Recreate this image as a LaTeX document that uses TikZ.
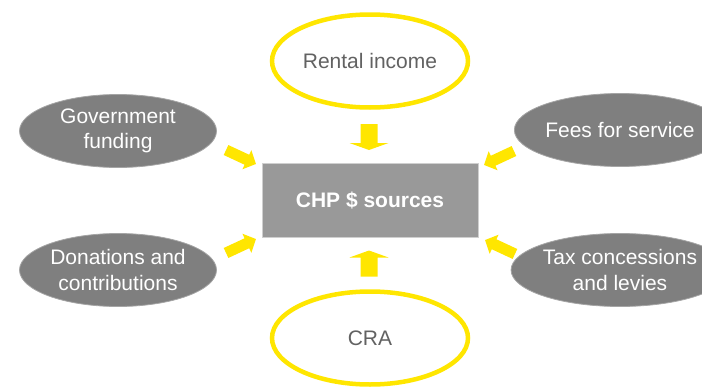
\documentclass[tikz,border=0pt]{standalone}
\usepackage{fontspec}
\setmainfont{Liberation Sans}
\usetikzlibrary{shapes.geometric}
\definecolor{cyellow}{HTML}{FFE600}
\definecolor{cgray}{HTML}{7F7F7F}
\definecolor{cbox}{HTML}{999999}
\definecolor{cboxedge}{HTML}{CFCFCF}
\definecolor{ctext}{HTML}{626262}
\tikzset{
  txt/.style={font=\fontsize{21}{25.5}\selectfont, align=center},
  grayell/.style={txt, ellipse, fill=cgray, draw=cgray!70!white, line width=0.8pt,
    minimum width=197pt, minimum height=73pt, inner sep=0pt, text=white},
  yellell/.style={txt, ellipse, draw=cyellow, line width=4.5pt, fill=white,
    minimum width=196pt, minimum height=93pt, inner sep=0pt, text=ctext},
  blockarrow/.style={fill=cyellow, draw=none},
}
% #1 name, #2 x, #3 y, #4 angle, #5 length, #6 shaft width, #7 head width, #8 head length
\newcommand\yarrow[8]{%
  \coordinate (#1) at (#2,#3);
  \begin{scope}[shift={(#1)}, rotate=#4]
    \fill[blockarrow] ({-#5/2},{-#6/2}) -- ({#5/2-#8},{-#6/2}) -- ({#5/2-#8},{-#7/2})
      -- ({#5/2},0) -- ({#5/2-#8},{#7/2}) -- ({#5/2-#8},{#6/2}) -- ({-#5/2},{#6/2}) -- cycle;
  \end{scope}}
\begin{document}
\begin{tikzpicture}[x=1pt,y=-1pt]
\useasboundingbox (0,0) rectangle (702,391);
\clip (0,0) rectangle (702,391);
\node[txt, draw=cboxedge, line width=1pt, fill=cbox, text=white, minimum width=216pt, minimum height=74pt, inner sep=0pt, font=\fontsize{21}{25.5}\selectfont\bfseries] (chp) at (370,200) {CHP \$ sources};
\node[yellell] (rent) at (370,61) {Rental income};
\node[yellell] (cra) at (370,338) {CRA};
\node[grayell] (gov) at (118,131) {Government\\funding};
\node[grayell] (don) at (118,270) {Donations and\\contributions};
\node[grayell] (fees) at (620,130) {Fees for service};
\node[grayell] (tax) at (620,270) {Tax concessions\\and levies};
\yarrow{a1}{369}{137}{-90}{26}{17}{39}{7}
\yarrow{a2}{369}{263.5}{90}{26}{17}{39}{7}
\yarrow{a3}{241}{157}{-25}{33}{11}{21}{10}
\yarrow{a4}{499}{158}{205}{33}{11}{21}{10}
\yarrow{a5}{241}{246}{25}{33}{11}{21}{10}
\yarrow{a6}{500}{247}{155}{33}{11}{21}{10}
\end{tikzpicture}
\end{document}
